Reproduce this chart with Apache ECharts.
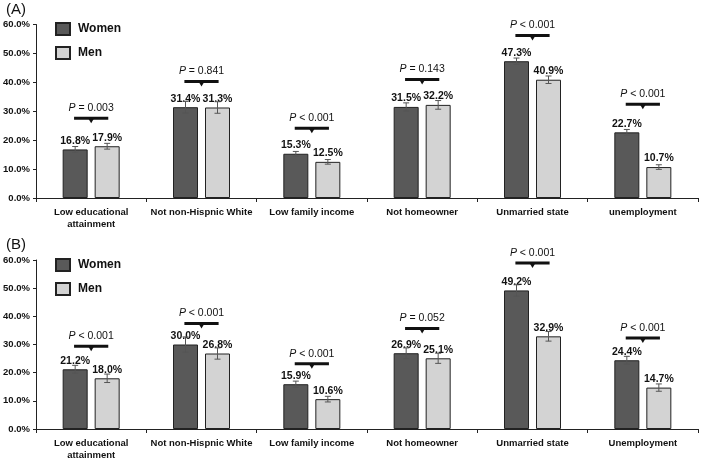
<!DOCTYPE html>
<html><head><meta charset="utf-8">
<script src="https://cdn.jsdelivr.net/npm/echarts@6/dist/echarts.min.js"></script>
<style>html,body{margin:0;padding:0;background:#fff}#c{width:701px;height:461px}</style>
</head><body><div id="c"></div>
<script>
const catsA = ['Low educational\nattainment','Not non-Hispnic White','Low family income','Not homeowner','Unmarried state','unemployment'];
const catsB = ['Low educational\nattainment','Not non-Hispnic White','Low family income','Not homeowner','Unmarried state','Unemployment'];
const womenA = [16.8, 31.4, 15.3, 31.5, 47.3, 22.7];
const menA   = [17.9, 31.3, 12.5, 32.2, 40.9, 10.7];
const womenErrA = [1.0, 2.0, 0.8, 1.4, 1.1, 1.0];
const menErrA   = [1.0, 2.0, 0.8, 1.5, 1.3, 0.8];
const pA = ['= 0.003','= 0.841','< 0.001','= 0.143','< 0.001','< 0.001'];
const pLevelA = [27.6, 40.3, 24.1, 41.0, 56.2, 32.4];
const womenB = [21.2, 30.0, 15.9, 26.9, 49.2, 24.4];
const menB   = [18.0, 26.8, 10.6, 25.1, 32.9, 14.7];
const womenErrB = [1.4, 2.7, 1.1, 1.9, 2.0, 1.4];
const menErrB   = [1.5, 2.0, 1.0, 1.8, 1.7, 1.3];
const pB = ['< 0.001','< 0.001','< 0.001','= 0.052','< 0.001','< 0.001'];
const pLevelB = [29.4, 37.5, 23.2, 35.7, 58.9, 32.3];
const yTicks = [0, 10, 20, 30, 40, 50, 60];

const FONT = '"Liberation Sans", Arial, sans-serif';
const BAR_W = 25, BAR_GAP = 7;
const OFF = (BAR_W + BAR_GAP) / 2;
const WOMEN_C = '#595959', MEN_C = '#d3d3d3';

function errData(vals, errs, sign) {
  return vals.map((v, i) => [i, v, errs[i], sign]);
}
function errRender(params, api) {
  const x = api.value(0), v = api.value(1), e = api.value(2), s = api.value(3);
  const t = api.coord([x, v + e]), b = api.coord([x, v - e]);
  const cx = t[0] + s * OFF;
  const st = { stroke: '#555', lineWidth: 1 };
  return { type: 'group', children: [
    { type: 'line', shape: { x1: cx, y1: t[1], x2: cx, y2: b[1] }, style: st },
    { type: 'line', shape: { x1: cx - 3, y1: t[1], x2: cx + 3, y2: t[1] }, style: st },
    { type: 'line', shape: { x1: cx - 3, y1: b[1], x2: cx + 3, y2: b[1] }, style: st }
  ]};
}
function bracketRender(texts) {
  return function (params, api) {
    const c = api.coord([api.value(0), api.value(1)]);
    const bw = api.size([1, 0])[0];
    const half = bw * 0.155;
    return { type: 'group', children: [
      { type: 'line', shape: { x1: c[0] - half, y1: c[1], x2: c[0] + half, y2: c[1] }, style: { stroke: '#111', lineWidth: 3 } },
      { type: 'polygon', shape: { points: [[c[0] - 3, c[1]], [c[0] + 3, c[1]], [c[0], c[1] + 5]] }, style: { fill: '#111' } },
      { type: 'text', x: c[0], y: c[1] - 10, style: {
        text: '{i|P} ' + texts[params.dataIndex], align: 'center', verticalAlign: 'middle',
        fontFamily: FONT, fontSize: 10.5, fill: '#111',
        rich: { i: { fontStyle: 'italic', fontFamily: FONT, fontSize: 10.5, fill: '#111' } } } }
    ]};
  };
}
function barSeries(name, data, color, idx) {
  return {
    name, type: 'bar', data, xAxisIndex: idx, yAxisIndex: idx,
    barWidth: BAR_W, barGap: (BAR_GAP / BAR_W * 100) + '%',
    itemStyle: { color, borderColor: '#222', borderWidth: 1 },
    label: { show: true, position: 'top', distance: 3, formatter: p => p.value.toFixed(1) + '%',
      fontFamily: FONT, fontWeight: 'bold', fontSize: 10.5, color: '#111' },
    z: 2
  };
}
function panelSeries(women, men, wErr, mErr, levels, texts, idx) {
  return [
    barSeries('Women', women, WOMEN_C, idx),
    barSeries('Men', men, MEN_C, idx),
    { type: 'custom', xAxisIndex: idx, yAxisIndex: idx, renderItem: errRender, data: errData(women, wErr, -1), z: 5, silent: true },
    { type: 'custom', xAxisIndex: idx, yAxisIndex: idx, renderItem: errRender, data: errData(men, mErr, 1), z: 5, silent: true },
    { type: 'custom', xAxisIndex: idx, yAxisIndex: idx, renderItem: bracketRender(texts), data: levels.map((l, i) => [i, l]), z: 6, silent: true }
  ];
}
function xAxis(cats, idx) {
  return { type: 'category', gridIndex: idx, data: cats,
    axisLine: { lineStyle: { color: '#222', width: 1 } },
    axisTick: { show: true, length: 4, lineStyle: { color: '#222' } },
    axisLabel: { fontFamily: FONT, fontWeight: 'bold', fontSize: 9.5, color: '#111', margin: 8, lineHeight: 12, interval: 0 } };
}
function yAxis(idx) {
  return { type: 'value', gridIndex: idx, min: yTicks[0], max: yTicks[yTicks.length - 1], interval: yTicks[1] - yTicks[0],
    splitLine: { show: false },
    axisLine: { show: true, lineStyle: { color: '#222', width: 1 } },
    axisTick: { show: true, length: 3, lineStyle: { color: '#222' } },
    axisLabel: { fontFamily: FONT, fontWeight: 'bold', fontSize: 9.5, color: '#111', margin: 6, formatter: v => v.toFixed(1) + '%' } };
}
function legend(top) {
  return { orient: 'vertical', left: 55, top, padding: 0, itemWidth: 14, itemHeight: 12, itemGap: 10,
    data: ['Women', 'Men'], icon: 'rect',
    textStyle: { fontFamily: FONT, fontWeight: 'bold', fontSize: 12, color: '#111', padding: [0, 0, 0, 3] } };
}
const chart = echarts.init(document.getElementById('c'), null, { renderer: 'canvas' });
chart.setOption({
  animation: false,
  title: [
    { text: '(A)', left: 1, top: -3, textStyle: { fontFamily: FONT, fontWeight: 'normal', fontSize: 15, color: '#111' } },
    { text: '(B)', left: 1, top: 232, textStyle: { fontFamily: FONT, fontWeight: 'normal', fontSize: 15, color: '#111' } }
  ],
  legend: [legend(22), legend(258)],
  grid: [
    { left: 36, right: 3, top: 24.5, height: 173.5 },
    { left: 36, right: 3, top: 260, height: 173 }
  ],
  xAxis: [xAxis(catsA, 0), xAxis(catsB, 1)],
  yAxis: [yAxis(0), yAxis(1)],
  series: [
    ...panelSeries(womenA, menA, womenErrA, menErrA, pLevelA, pA, 0),
    ...panelSeries(womenB, menB, womenErrB, menErrB, pLevelB, pB, 1)
  ]
});
</script></body></html>
